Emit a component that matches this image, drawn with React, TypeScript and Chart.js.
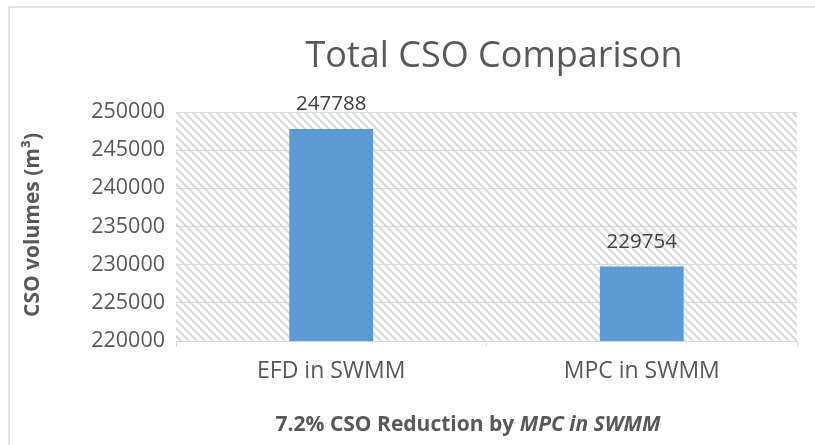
import React, { useEffect, useRef } from "react";
import { Chart, registerables } from "chart.js";

Chart.register(...registerables);

const categories = ["EFD in SWMM", "MPC in SWMM"];
const values = [247788, 229754];
const yMin = 220000;
const yMax = 250000;
const yStep = 5000;
const chartTitle = "Total CSO Comparison";
const yAxisTitle = "CSO volumes (m³)";
const xTitleNormal = "7.2% CSO Reduction by ";
const xTitleItalic = "MPC in SWMM";

const FONT = "'Open Sans', 'Noto Sans', sans-serif";
const BAR_COLOR = "#5B9BD5";
const GRID = "#d9d9d9";
const TEXT = "#595959";

function makeHatch(ctx: CanvasRenderingContext2D) {
  const c = document.createElement("canvas");
  c.width = 8;
  c.height = 8;
  const g = c.getContext("2d")!;
  g.fillStyle = "#ffffff";
  g.fillRect(0, 0, 8, 8);
  g.strokeStyle = "#d9d9d9";
  g.lineWidth = 2.2;
  for (let i = -8; i <= 8; i += 8) {
    g.beginPath();
    g.moveTo(i - 1, -1);
    g.lineTo(i + 9, 9);
    g.stroke();
  }
  return ctx.createPattern(c, "repeat");
}

const decorPlugin = {
  id: "decor",
  beforeDraw(chart: any) {
    const { ctx, chartArea } = chart;
    ctx.save();
    ctx.fillStyle = "#ffffff";
    ctx.fillRect(0, 0, chart.width, chart.height);
    // outer chart border
    ctx.strokeStyle = GRID;
    ctx.lineWidth = 1.5;
    ctx.strokeRect(9, 7, chart.width + 20, chart.height + 20);
    // hatched plot area
    const pat = makeHatch(ctx);
    if (pat) {
      ctx.fillStyle = pat;
      ctx.fillRect(chartArea.left, chartArea.top, chartArea.right - chartArea.left, chartArea.bottom - chartArea.top);
    }
    ctx.restore();
  },
  afterDatasetsDraw(chart: any) {
    const { ctx } = chart;
    const meta = chart.getDatasetMeta(0);
    ctx.save();
    ctx.fillStyle = "#404040";
    ctx.font = `20.5px ${FONT}`;
    ctx.textAlign = "center";
    ctx.textBaseline = "alphabetic";
    meta.data.forEach((bar: any, i: number) => {
      ctx.fillText(String(values[i]), bar.x, bar.y - 19);
    });
    ctx.restore();
  },
  afterDraw(chart: any) {
    const { ctx } = chart;
    ctx.save();
    // title
    ctx.fillStyle = TEXT;
    ctx.font = `36px ${FONT}`;
    ctx.textAlign = "center";
    ctx.textBaseline = "alphabetic";
    ctx.fillText(chartTitle, 494, 67);
    // y axis title
    ctx.save();
    ctx.translate(33, 225);
    ctx.rotate(-Math.PI / 2);
    ctx.font = `bold 21px ${FONT}`;
    ctx.textAlign = "center";
    ctx.textBaseline = "middle";
    ctx.fillText(yAxisTitle, 0, 0);
    ctx.restore();
    // x axis title (mixed style)
    ctx.textBaseline = "middle";
    ctx.textAlign = "left";
    const f1 = `bold 21px ${FONT}`;
    const f2 = `italic bold 21px ${FONT}`;
    ctx.font = f1;
    const w1 = ctx.measureText(xTitleNormal).width;
    ctx.font = f2;
    const w2 = ctx.measureText(xTitleItalic).width;
    const x = 468 - (w1 + w2) / 2;
    ctx.font = f1;
    ctx.fillText(xTitleNormal, x, 425);
    ctx.font = f2;
    ctx.fillText(xTitleItalic, x + w1, 425);
    ctx.restore();
  },
};

export default function App() {
  const ref = useRef<HTMLCanvasElement | null>(null);
  useEffect(() => {
    document.body.style.margin = "0";
    const canvas = ref.current!;
    const chart = new Chart(canvas, {
      type: "bar",
      data: {
        labels: categories,
        datasets: [
          {
            data: values,
            backgroundColor: BAR_COLOR,
            borderWidth: 0,
            barPercentage: 0.27,
            categoryPercentage: 1,
          },
        ],
      },
      plugins: [decorPlugin],
      options: {
        animation: false,
        responsive: true,
        maintainAspectRatio: false,
        layout: { padding: { top: 112, right: 18, left: 0, bottom: 0 } },
        plugins: {
          legend: { display: false },
          title: { display: false },
          tooltip: { enabled: false },
        },
        scales: {
          x: {
            afterFit: (s: any) => {
              s.height = 104;
            },
            grid: {
              offset: true,
              drawOnChartArea: false,
              drawTicks: true,
              tickLength: 6,
              color: GRID,
            },
            border: { display: true, color: GRID, width: 1 },
            ticks: {
              padding: 11,
              color: TEXT,
              font: { family: FONT, size: 23 },
            },
          },
          y: {
            min: yMin,
            max: yMax,
            afterFit: (s: any) => {
              s.width = 176;
            },
            grid: { color: GRID, drawTicks: false, lineWidth: 1 },
            border: { display: false },
            ticks: {
              stepSize: yStep,
              padding: 11,
              color: TEXT,
              font: { family: FONT, size: 21.5 },
              callback: (v: any) => String(v),
            },
          },
        },
      },
    });
    return () => chart.destroy();
  }, []);
  return (
    <div style={{ width: 815, height: 445, position: "relative" }}>
      <canvas ref={ref} />
    </div>
  );
}
